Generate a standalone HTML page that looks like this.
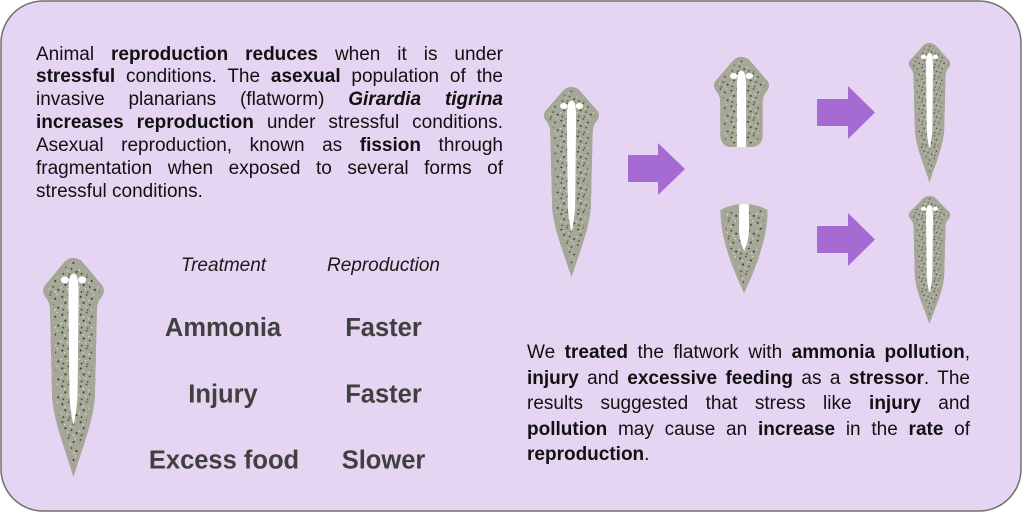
<!DOCTYPE html>
<html>
<head>
<meta charset="utf-8">
<style>
  html,body{margin:0;padding:0;}
  body{width:1022px;height:512px;position:relative;overflow:hidden;background:#ffffff;
       font-family:"Liberation Sans",sans-serif;}
  svg{position:absolute;left:0;top:0;}
  .para{position:absolute;font-size:19px;color:#111;}
  .para div{text-align:justify;text-align-last:justify;}
  .para div.last{text-align:left;text-align-last:left;}
  b{font-weight:bold;}
</style>
</head>
<body>
<svg width="1022" height="512" viewBox="0 0 1022 512" xmlns="http://www.w3.org/2000/svg">
  <defs>
    <pattern id="dots" patternUnits="userSpaceOnUse" width="18" height="18">
      <circle cx="2" cy="3" r="1" fill="#38342f"/>
      <circle cx="8" cy="1" r="0.8" fill="#38342f"/>
      <circle cx="13" cy="5" r="0.95" fill="#38342f"/>
      <circle cx="5" cy="9" r="1.05" fill="#38342f"/>
      <circle cx="11" cy="11" r="0.85" fill="#38342f"/>
      <circle cx="16" cy="14" r="1" fill="#38342f"/>
      <circle cx="3" cy="16" r="0.85" fill="#38342f"/>
      <circle cx="9" cy="16.5" r="0.7" fill="#38342f"/>
      <circle cx="4.5" cy="5.5" r="0.65" fill="#f4f4f4"/>
      <circle cx="10" cy="7" r="0.6" fill="#f4f4f4"/>
      <circle cx="15" cy="1" r="0.6" fill="#f4f4f4"/>
      <circle cx="1" cy="12" r="0.65" fill="#f4f4f4"/>
      <circle cx="13" cy="16" r="0.6" fill="#f4f4f4"/>
      <circle cx="7" cy="13" r="0.6" fill="#f4f4f4"/>
    </pattern>
    <clipPath id="cW"><path d="M31,0 C37,0 40,4 44,9 L57,25 C62,30 62,35 58,40 C55,44 54,48 54,54 L52,140 C50,165 40,190 31,220 C22,190 12,165 10,140 L8,54 C8,48 7,44 4,40 C0,35 0,30 5,25 L18,9 C22,4 25,0 31,0 Z"/></clipPath>
    <clipPath id="cT"><path d="M31,0 C37,0 40,4 44,9 L57,25 C62,30 62,35 58,40 C55,44 54,48 54,54 L54,90 C54,99 49,104 42,104 L20,104 C13,104 8,99 8,90 L8,54 C8,48 7,44 4,40 C0,35 0,30 5,25 L18,9 C22,4 25,0 31,0 Z"/></clipPath>
    <clipPath id="cB"><path d="M0,8 Q24,-4 48,8 C48,32 40,58 24,92 C8,58 0,32 0,8 Z"/></clipPath>

    <g id="worm">
      <path d="M31,0 C37,0 40,4 44,9 L57,25 C62,30 62,35 58,40 C55,44 54,48 54,54 L52,140 C50,165 40,190 31,220 C22,190 12,165 10,140 L8,54 C8,48 7,44 4,40 C0,35 0,30 5,25 L18,9 C22,4 25,0 31,0 Z" fill="#a5a797"/>
      <g clip-path="url(#cW)">
        <rect x="0" y="0" width="62" height="220" fill="url(#dots)"/>
        <path d="M31,0 C37,0 40,4 44,9 L57,25 C62,30 62,35 58,40 C55,44 54,48 54,54 L52,140 C50,165 40,190 31,220 C22,190 12,165 10,140 L8,54 C8,48 7,44 4,40 C0,35 0,30 5,25 L18,9 C22,4 25,0 31,0 Z" fill="none" stroke="#a5a797" stroke-width="8"/>
        <path d="M31,16 C35.5,16 36,24 36,40 L35,140 C34,152 32.5,162 31,168 C29.5,162 28,152 27,140 L26,40 C26,24 26.5,16 31,16 Z" fill="#ffffff"/>
        <ellipse cx="22.5" cy="22" rx="4" ry="3.5" fill="#ffffff"/>
        <ellipse cx="39.5" cy="22" rx="4" ry="3.5" fill="#ffffff"/>
      </g>
    </g>

    <g id="wormTop">
      <path d="M31,0 C37,0 40,4 44,9 L57,25 C62,30 62,35 58,40 C55,44 54,48 54,54 L54,90 C54,99 49,104 42,104 L20,104 C13,104 8,99 8,90 L8,54 C8,48 7,44 4,40 C0,35 0,30 5,25 L18,9 C22,4 25,0 31,0 Z" fill="#a5a797"/>
      <g clip-path="url(#cT)">
        <rect x="0" y="0" width="62" height="104" fill="url(#dots)"/>
        <path d="M31,0 C37,0 40,4 44,9 L57,25 C62,30 62,35 58,40 C55,44 54,48 54,54 L54,90 C54,99 49,104 42,104 L20,104 C13,104 8,99 8,90 L8,54 C8,48 7,44 4,40 C0,35 0,30 5,25 L18,9 C22,4 25,0 31,0 Z" fill="none" stroke="#a5a797" stroke-width="8"/>
        <path d="M31,16 C35.5,16 36,24 36,40 L36,106 L26,106 L26,40 C26,24 26.5,16 31,16 Z" fill="#ffffff"/>
        <ellipse cx="22.5" cy="22" rx="4" ry="3.5" fill="#ffffff"/>
        <ellipse cx="39.5" cy="22" rx="4" ry="3.5" fill="#ffffff"/>
      </g>
    </g>

    <g id="wormBot">
      <path d="M0,8 Q24,-4 48,8 C48,32 40,58 24,92 C8,58 0,32 0,8 Z" fill="#a5a797"/>
      <g clip-path="url(#cB)">
        <rect x="0" y="0" width="48" height="92" fill="url(#dots)"/>
        <path d="M0,8 Q24,-4 48,8 C48,32 40,58 24,92 C8,58 0,32 0,8 Z" fill="none" stroke="#a5a797" stroke-width="7"/>
        <path d="M19,-2 L29,-2 L29,28 C29,38 26.5,44 24,49 C21.5,44 19,38 19,28 Z" fill="#ffffff"/>
      </g>
    </g>
  </defs>

  <!-- main box -->
  <rect x="1" y="1" width="1020" height="510" rx="42" ry="42" fill="#e6d5f2" stroke="#707070" stroke-width="1.5"/>

  <!-- worms -->
  <use href="#worm" transform="translate(42,258) scale(1.016,0.995)"/>
  <use href="#worm" transform="translate(543,87) scale(0.919,0.864)"/>
  <use href="#wormTop" transform="translate(713,57) scale(0.919,0.865)"/>
  <use href="#wormBot" transform="translate(720.5,202) scale(0.98,0.99)"/>
  <use href="#worm" transform="translate(908,43) scale(0.694,0.632)"/>
  <use href="#worm" transform="translate(908,196) scale(0.694,0.58)"/>

  <!-- arrows -->
  <polygon points="628,155 658,155 658,143 685,169 658,195 658,182 628,182" fill="#a66bd3"/>
  <polygon points="817,99 848,99 848,86 875,112.5 848,139 848,126 817,126" fill="#a66bd3"/>
  <polygon points="817,226 848,226 848,213 875,239.5 848,266 848,253 817,253" fill="#a66bd3"/>

  <!-- table -->
  <g font-family="Liberation Sans, sans-serif" text-anchor="middle">
    <text x="223.5" y="271" font-size="19" font-style="italic" fill="#1a1a1a">Treatment</text>
    <text x="383.5" y="271" font-size="19" font-style="italic" fill="#1a1a1a">Reproduction</text>
    <text x="223" y="336" font-size="25.5" font-weight="bold" fill="#404040">Ammonia</text>
    <text x="383.5" y="336" font-size="25.5" font-weight="bold" fill="#404040">Faster</text>
    <text x="223" y="402.7" font-size="25.5" font-weight="bold" fill="#404040">Injury</text>
    <text x="383.5" y="402.7" font-size="25.5" font-weight="bold" fill="#404040">Faster</text>
    <text x="224" y="468.3" font-size="25.5" font-weight="bold" fill="#404040">Excess food</text>
    <text x="383.5" y="468.3" font-size="25.5" font-weight="bold" fill="#404040">Slower</text>
  </g>
</svg>

<div class="para" style="left:36px;top:43.5px;width:467px;line-height:22.95px;">
  <div>Animal <b>reproduction reduces</b> when it is under</div>
  <div><b>stressful</b> conditions. The <b>asexual</b> population of the</div>
  <div>invasive planarians (flatworm) <b><i>Girardia tigrina</i></b></div>
  <div><b>increases reproduction</b> under stressful conditions.</div>
  <div>Asexual reproduction, known as <b>fission</b> through</div>
  <div>fragmentation when exposed to several forms of</div>
  <div class="last">stressful conditions.</div>
</div>

<div class="para" style="left:527px;top:340px;width:443px;line-height:25.6px;">
  <div>We <b>treated</b> the flatwork with <b>ammonia pollution</b>,</div>
  <div><b>injury</b> and <b>excessive feeding</b> as a <b>stressor</b>. The</div>
  <div>results suggested that stress like <b>injury</b> and</div>
  <div><b>pollution</b> may cause an <b>increase</b> in the <b>rate</b> of</div>
  <div class="last"><b>reproduction</b>.</div>
</div>
</body>
</html>
